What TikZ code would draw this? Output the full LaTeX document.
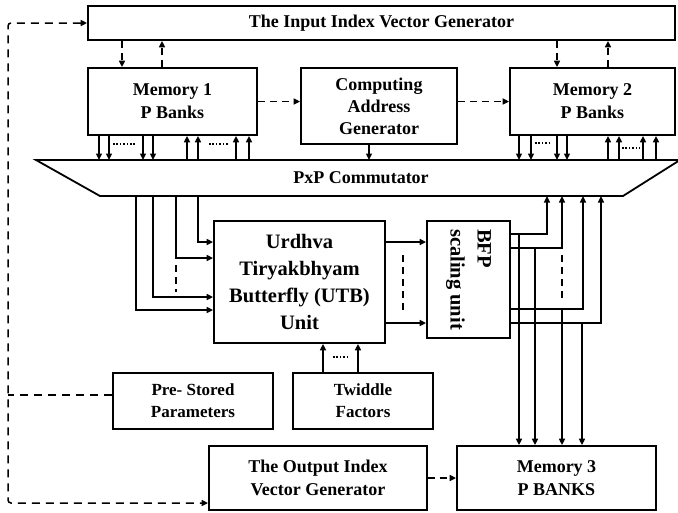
\documentclass[tikz,border=0pt]{standalone}
\usepackage{fontspec}
\setmainfont{Liberation Serif}
\usetikzlibrary{arrows.meta}
\begin{document}
\begin{tikzpicture}[x=1pt,y=-1pt,
  blk/.style={draw,line width=1.8pt,align=center,inner sep=0pt,
    font=\bfseries\fontsize{18}{23}\selectfont},
  big/.style={font=\bfseries\fontsize{20.5}{27}\selectfont},
  small/.style={font=\bfseries\fontsize{17}{22}\selectfont},
  wire/.style={line width=1.5pt},
  tip/.tip={Triangle[length=6.5pt,width=6pt]},
  arr/.style={wire,-tip},
  dsh/.style={wire,dash pattern=on 7pt off 5pt},
  dots/.style={line width=1.6pt,dash pattern=on 1.6pt off 1.8pt}
]
\useasboundingbox (0,0) rectangle (678,512);

% ---- blocks ----
\node[blk,minimum width=587pt,minimum height=34pt] (ing) at (381.5,23) {The Input Index Vector Generator};
\node[blk,minimum width=169pt,minimum height=67pt] (m1) at (172.5,101.5) {Memory 1\\P Banks};
\node[blk,minimum width=156pt,minimum height=76pt,font=\bfseries\fontsize{18}{22}\selectfont] (cag) at (379,106) {Computing\\Address\\Generator};
\node[blk,minimum width=165pt,minimum height=67pt] (m2) at (592.5,101.5) {Memory 2\\P Banks};

% commutator (trapezoid)
\coordinate (ctl) at (36,160);
\coordinate (ctr) at (680,160);
\coordinate (cbr) at (623,196);
\coordinate (cbl) at (100,196);
\draw[line width=1.8pt,line join=miter] (ctl) -- (ctr) -- (cbr) -- (cbl) -- cycle;
\node[font=\bfseries\fontsize{18}{23}\selectfont] (comm) at (361,178) {PxP Commutator};

\node[blk,big,minimum width=171pt,minimum height=122pt] (utb) at (299.5,282) {Urdhva\\Tiryakbhyam\\Butterfly (UTB)\\Unit};
\node[blk,big,rotate=-90,align=left,minimum width=117pt,minimum height=83pt] (bfp) at (468.5,279.5) {BFP\\scaling unit};

\node[blk,small,minimum width=160pt,minimum height=56pt] (pre) at (193,401) {Pre- Stored\\Parameters};
\node[blk,small,minimum width=140pt,minimum height=56pt] (tw) at (363,401) {Twiddle\\Factors};
\node[blk,minimum width=218pt,minimum height=64pt] (oig) at (318,478) {The Output Index\\Vector Generator};
\node[blk,minimum width=199pt,minimum height=64pt] (m3) at (556.5,478) {Memory 3\\P BANKS};

% ---- index generator <-> memories ----
\draw[dsh,-tip] (ing.south -| 122,0) -- (m1.north -| 122,0);
\draw[dsh,-tip] (m1.north -| 162,0) -- (ing.south -| 162,0);
\draw[dsh,-tip] (ing.south -| 557,0) -- (m2.north -| 557,0);
\draw[dsh,-tip] (m2.north -| 608,0) -- (ing.south -| 608,0);

% memory 1 -> address generator -> memory 2
\draw[dsh,-tip] (m1.east) -- (m1.east -| cag.west);
\draw[dsh,-tip] (m2.west -| cag.east) -- (m2.west);

% ---- memory banks <-> commutator ----
\foreach \x in {99,109,143,153} \draw[arr] (m1.south -| \x,0) -- (ctl -| \x,0);
\foreach \x in {187,198,236,249} \draw[arr] (ctl -| \x,0) -- (m1.south -| \x,0);
\draw[dots] (113,144) -- (135,144);
\draw[dots] (209,144) -- (229,144);

\foreach \x in {519,531,557,567} \draw[arr] (m2.south -| \x,0) -- (ctl -| \x,0);
\foreach \x in {608,619,643,656} \draw[arr] (ctl -| \x,0) -- (m2.south -| \x,0);
\draw[dots] (535,143) -- (549,143);
\draw[dots] (622,148) -- (640,148);

\draw[arr] (cag.south -| 369,0) -- (ctl -| 369,0);

% ---- commutator -> UTB ----
\draw[arr] (cbl -| 198,0) |- (utb.west |- 0,242);
\draw[arr] (cbl -| 176,0) |- (utb.west |- 0,258);
\draw[arr] (cbl -| 153,0) |- (utb.west |- 0,297);
\draw[arr] (cbl -| 136,0) |- (utb.west |- 0,310);
\draw[dsh] (176,265) -- (176,292);

% ---- UTB -> BFP ----
\draw[arr] (utb.east |- 0,242) -- (bfp.south |- 0,242);
\draw[arr] (utb.east |- 0,323) -- (bfp.south |- 0,323);
\draw[dsh] (403,255) -- (403,310);

% ---- BFP -> commutator and memory 3 ----
\coordinate (o1) at (bfp.north |- 0,234);
\coordinate (o2) at (bfp.north |- 0,248);
\coordinate (o3) at (bfp.north |- 0,309);
\coordinate (o4) at (bfp.north |- 0,323);
\draw[arr] (o1) -| (cbl -| 547,0);
\draw[arr] (o2) -| (cbl -| 562,0);
\draw[arr] (o3) -| (cbl -| 583,0);
\draw[arr] (o4) -| (cbl -| 601,0);
\draw[arr] (o1 -| 519,0) -- (m3.north -| 519,0);
\draw[arr] (o2 -| 535,0) -- (m3.north -| 535,0);
\draw[arr] (o3 -| 562,0) -- (m3.north -| 562,0);
\draw[arr] (o4 -| 582,0) -- (m3.north -| 582,0);
\draw[dsh] (562,255) -- (562,298);

% ---- twiddle factors -> UTB ----
\draw[arr] (tw.north -| 323,0) -- (utb.south -| 323,0);
\draw[arr] (tw.north -| 358,0) -- (utb.south -| 358,0);
\draw[dots] (333,357) -- (349,357);

% ---- output index generator -> memory 3 ----
\draw[dsh,-tip] (oig.east) -- (m3.west);

% ---- control loop on the left ----
\coordinate (loopx) at (8,0);
\draw[dsh,dash pattern=on 8pt off 6pt,tip-tip,rounded corners=3pt] (ing.west) -| (loopx |- 0,503) -- (oig.west |- 0,503);
\coordinate (ps) at ([yshift=6pt]pre.west);
\draw[dsh,dash pattern=on 8pt off 6pt] (ps) -- (ps -| loopx);
\end{tikzpicture}
\end{document}
